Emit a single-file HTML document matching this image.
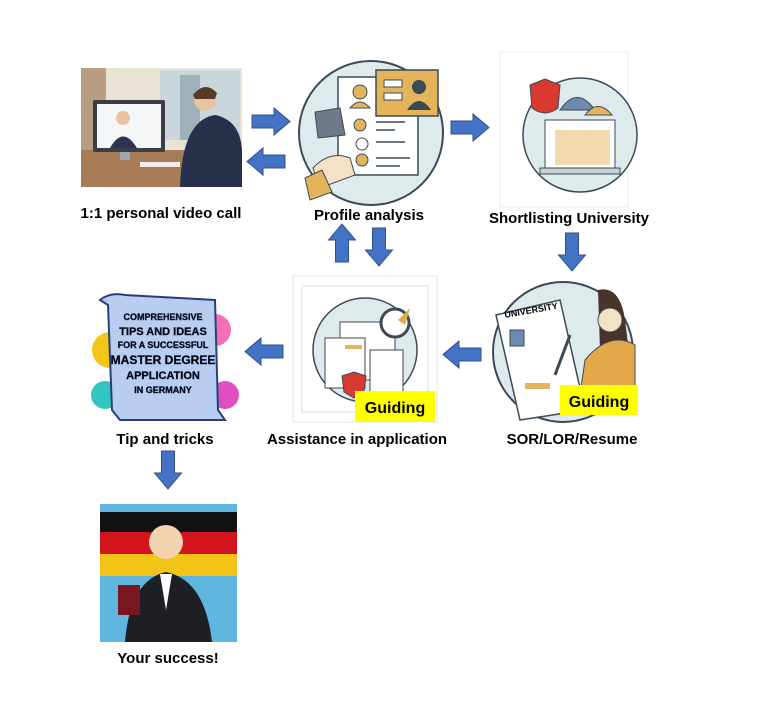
<!DOCTYPE html>
<html><head><meta charset="utf-8"><style>
html,body{margin:0;padding:0;background:#fff;width:768px;height:720px;overflow:hidden}
svg{display:block}
text{font-family:"Liberation Sans",sans-serif;font-weight:bold;fill:#000}
</style></head><body>
<svg width="768" height="720" viewBox="0 0 768 720" xmlns="http://www.w3.org/2000/svg">
<defs>
<g id="arR"><polygon points="0,7 22,7 22,0 38,13.5 22,27 22,20 0,20" fill="#4472C4" stroke="#2F528F" stroke-width="1"/></g>
</defs>

<!-- Video call image -->
<rect x="81" y="68" width="161" height="119" fill="#e9e3d6"/>
<rect x="81" y="68" width="25" height="100" fill="#b89d80"/>
<rect x="160" y="70" width="80" height="70" fill="#c9d6dc"/>
<rect x="180" y="75" width="20" height="65" fill="#9fb0bb"/>
<rect x="81" y="150" width="161" height="37" fill="#a77b55"/>
<rect x="93" y="100" width="72" height="52" rx="2" fill="#3a3f47"/>
<rect x="97" y="104" width="64" height="44" fill="#f4f6f7"/>
<circle cx="123" cy="118" r="7" fill="#e8c3a0"/>
<path d="M110 148 Q123 125 137 148 Z" fill="#2b3450"/>
<rect x="120" y="152" width="10" height="8" fill="#9aa"/>
<rect x="140" y="162" width="40" height="5" fill="#eee"/>
<circle cx="205" cy="100" r="11" fill="#e8c3a0"/>
<path d="M193 95 Q205 80 217 93 L215 99 L195 99Z" fill="#5a3a26"/>
<path d="M180 187 Q182 120 215 115 Q240 120 242 150 L242 187 Z" fill="#26304a"/>
<text x="161" y="218" font-size="15" text-anchor="middle">1:1 personal video call</text>

<!-- arrows between video and profile -->
<use href="#arR" x="252" y="108"/>
<use href="#arR" transform="translate(285,148) scale(-1,1)"/>

<!-- Profile analysis circle -->
<circle cx="371" cy="133" r="72" fill="#dfeaec" stroke="#3c4a55" stroke-width="2"/>
<rect x="338" y="77" width="80" height="98" fill="#fff" stroke="#3c4a55" stroke-width="1.5"/>
<rect x="376" y="70" width="62" height="46" fill="#e3b45c" stroke="#3c4a55" stroke-width="1.5"/>
<rect x="384" y="80" width="18" height="7" fill="#fff" stroke="#3c4a55"/>
<rect x="384" y="93" width="18" height="7" fill="#fff" stroke="#3c4a55"/>
<circle cx="419" cy="87" r="7" fill="#3c4a55"/><path d="M407 110 Q419 92 431 110Z" fill="#3c4a55"/>
<circle cx="360" cy="92" r="7" fill="#e3b45c" stroke="#3c4a55"/><path d="M350 108 Q360 96 370 108Z" fill="#e3b45c" stroke="#3c4a55"/>
<circle cx="360" cy="125" r="6" fill="#e3b45c" stroke="#3c4a55"/>
<circle cx="362" cy="144" r="6" fill="#fff" stroke="#3c4a55"/>
<circle cx="362" cy="160" r="6" fill="#e3b45c" stroke="#3c4a55"/>
<g stroke="#3c4a55" stroke-width="1.5"><line x1="376" y1="122" x2="405" y2="122"/><line x1="376" y1="130" x2="395" y2="130"/><line x1="376" y1="142" x2="405" y2="142"/><line x1="376" y1="158" x2="410" y2="158"/><line x1="376" y1="166" x2="400" y2="166"/></g>
<polygon points="315,112 340,108 345,135 318,138" fill="#6c7a89" stroke="#3c4a55"/>
<path d="M313 168 Q330 150 350 158 L355 175 L320 188Z" fill="#f3e2c6" stroke="#3c4a55"/>
<path d="M305 178 L322 170 L332 192 L310 200Z" fill="#e3b45c" stroke="#3c4a55"/>
<text x="369" y="220" font-size="15" text-anchor="middle">Profile analysis</text>

<use href="#arR" x="451" y="114"/>

<!-- Shortlisting -->
<rect x="500" y="52" width="128" height="155" fill="#fff" stroke="#eee"/>
<circle cx="580" cy="135" r="57" fill="#dfeaec" stroke="#3c4a55" stroke-width="1.5"/>
<path d="M530 85 L545 79 L560 85 L558 108 Q545 118 532 108Z" fill="#d93a2f" stroke="#3c4a55"/>
<rect x="545" y="120" width="70" height="50" fill="#fff" stroke="#3c4a55"/>
<path d="M560 110 Q577 85 595 110Z" fill="#6c8bb3" stroke="#3c4a55"/>
<path d="M585 115 Q598 98 612 115Z" fill="#e3b45c" stroke="#3c4a55"/>
<rect x="555" y="130" width="55" height="35" fill="#e3b45c" opacity="0.5"/>
<rect x="540" y="168" width="80" height="6" fill="#c9d0d6" stroke="#3c4a55"/>
<text x="569" y="223" font-size="15" text-anchor="middle">Shortlisting University</text>

<use href="#arR" transform="translate(572,233) rotate(90) translate(0,-13.5)"/>

<!-- SOR circle -->
<circle cx="563" cy="352" r="70" fill="#dfeaec" stroke="#3c4a55" stroke-width="2"/>
<path d="M496 315 L560 300 L585 410 L520 420Z" fill="#fff" stroke="#3c4a55" stroke-width="1.5"/>
<text x="505" y="318" font-size="9" fill="#3c4a55" transform="rotate(-10 505 318)">UNIVERSITY</text>
<rect x="510" y="330" width="14" height="16" fill="#6c8bb3" stroke="#3c4a55"/>
<path d="M598 290 Q620 285 625 320 L630 360 L600 350 Z" fill="#4a3328"/>
<circle cx="610" cy="320" r="12" fill="#f3e2c6" stroke="#3c4a55"/>
<path d="M585 360 Q610 330 635 345 L635 395 L580 395Z" fill="#e3a84a" stroke="#3c4a55"/>
<line x1="555" y1="375" x2="570" y2="335" stroke="#3c4a55" stroke-width="3"/>
<rect x="525" y="383" width="25" height="6" fill="#e3b45c"/>
<rect x="560" y="385" width="78" height="30" fill="#ffff00"/>
<text x="599" y="407" font-size="16" text-anchor="middle">Guiding</text>
<text x="572" y="444" font-size="15" text-anchor="middle">SOR/LOR/Resume</text>

<use href="#arR" transform="translate(481,341) scale(-1,1)"/>

<!-- Assistance -->
<rect x="293" y="276" width="144" height="146" fill="#fff" stroke="#e6e6e6"/>
<rect x="302" y="286" width="126" height="126" fill="none" stroke="#ddd"/>
<circle cx="365" cy="350" r="52" fill="#dfeaec" stroke="#3c4a55" stroke-width="1.5"/>
<rect x="340" y="322" width="55" height="58" fill="#fff" stroke="#3c4a55"/>
<rect x="325" y="338" width="40" height="50" fill="#fff" stroke="#3c4a55"/>
<rect x="370" y="350" width="33" height="42" fill="#fff" stroke="#3c4a55"/>
<rect x="345" y="345" width="17" height="4" fill="#e3b45c"/>
<circle cx="395" cy="323" r="14" fill="#fff" stroke="#3c4a55" stroke-width="3"/>
<polygon points="398,320 410,308 405,325" fill="#e3a84a"/>
<path d="M342 376 L354 372 L366 376 L364 392 L354 398 L344 392Z" fill="#d93a2f" stroke="#3c4a55"/>
<rect x="355" y="391" width="80" height="31" fill="#ffff00"/>
<text x="395" y="413" font-size="16" text-anchor="middle">Guiding</text>
<text x="357" y="444" font-size="15" text-anchor="middle">Assistance in application</text>

<!-- up/down arrows -->
<use href="#arR" transform="translate(342,262) rotate(-90) translate(0,-13.5)"/>
<use href="#arR" transform="translate(379,228) rotate(90) translate(0,-13.5)"/>

<use href="#arR" transform="translate(283,338) scale(-1,1)"/>

<!-- Tips -->
<circle cx="110" cy="350" r="18" fill="#f5c518"/>
<circle cx="215" cy="330" r="16" fill="#f56fb8"/>
<circle cx="105" cy="395" r="14" fill="#31c6c0"/>
<circle cx="225" cy="395" r="14" fill="#e04fc0"/>
<path d="M100 300 Q110 292 125 295 L215 300 L218 410 L225 420 L120 420 L112 410 L108 305Z" fill="#b8cdf0" stroke="#28407a" stroke-width="2"/>
<g font-size="9" text-anchor="middle">
<text x="163" y="320" fill="#fff" stroke="#1a2a50" stroke-width="0.4">COMPREHENSIVE</text>
<text x="163" y="335" fill="#f5c518" stroke="#1a2a50" stroke-width="0.4" font-size="11">TIPS AND IDEAS</text>
<text x="163" y="348" fill="#fff" stroke="#1a2a50" stroke-width="0.4">FOR A SUCCESSFUL</text>
<text x="163" y="364" fill="#f5c518" stroke="#1a2a50" stroke-width="0.4" font-size="12">MASTER DEGREE</text>
<text x="163" y="379" fill="#f5c518" stroke="#1a2a50" stroke-width="0.4" font-size="11">APPLICATION</text>
<text x="163" y="393" fill="#fff" stroke="#1a2a50" stroke-width="0.4">IN GERMANY</text>
</g>
<text x="165" y="444" font-size="15" text-anchor="middle">Tip and tricks</text>

<use href="#arR" transform="translate(168,451) rotate(90) translate(0,-13.5)"/>

<!-- Success -->
<rect x="100" y="504" width="137" height="138" fill="#5fb7e0"/>
<rect x="100" y="512" width="137" height="20" fill="#111"/>
<rect x="100" y="532" width="137" height="22" fill="#d2141c"/>
<rect x="100" y="554" width="137" height="22" fill="#f2c418"/>
<circle cx="166" cy="542" r="17" fill="#f3d2b0"/>
<path d="M149 535 Q166 510 183 535 L180 528 Q166 518 152 528Z" fill="#111"/>
<path d="M125 642 Q130 580 166 572 Q205 580 212 642Z" fill="#1e1f24"/>
<polygon points="160,574 172,574 166,610" fill="#fff"/>
<rect x="118" y="585" width="22" height="30" fill="#7a1620"/>
<text x="168" y="663" font-size="15" text-anchor="middle">Your success!</text>
</svg>
</body></html>
